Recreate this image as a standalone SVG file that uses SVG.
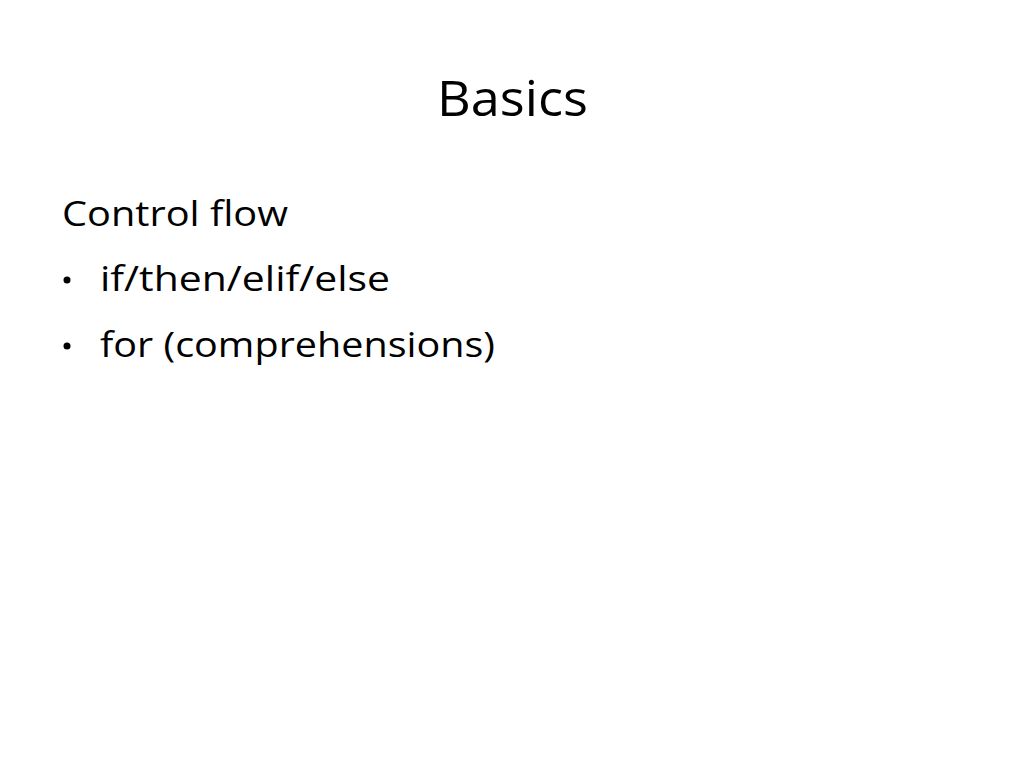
<svg xmlns="http://www.w3.org/2000/svg" width="1024" height="768" viewBox="0 0 1024 768">
<style>
text{font-family:"Open Sans","Lato","Liberation Sans",sans-serif;fill:#000}
.b{font-size:34px}
</style>
<rect width="1024" height="768" fill="#fff"/>
<text x="437" y="116" font-size="50" textLength="151" lengthAdjust="spacingAndGlyphs">Basics</text>
<text class="b" x="62" y="226" textLength="226" lengthAdjust="spacingAndGlyphs">Control flow</text>
<circle cx="67" cy="280" r="3.5"/>
<text class="b" x="100" y="291" textLength="290" lengthAdjust="spacingAndGlyphs">if/then/elif/else</text>
<circle cx="67" cy="346" r="3.5"/>
<text class="b" x="100" y="357" textLength="395" lengthAdjust="spacingAndGlyphs">for (comprehensions)</text>
</svg>
